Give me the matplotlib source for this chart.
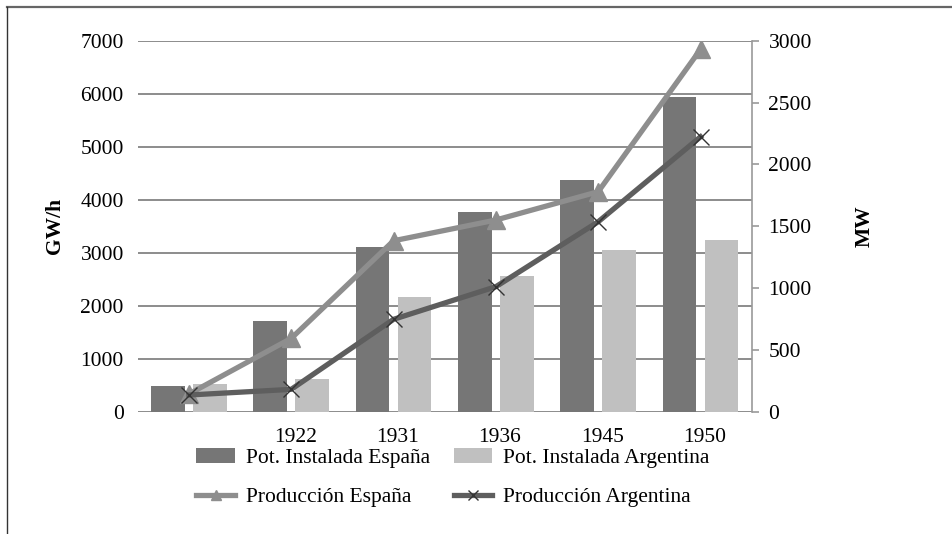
import matplotlib
matplotlib.use("Agg")
import matplotlib.pyplot as plt
import matplotlib.transforms as mtransforms
from matplotlib.lines import Line2D
import numpy as np

plt.rcParams["font.family"] = ["Liberation Serif", "DejaVu Serif"]
plt.rcParams["font.size"] = 15.5

# data
years = ["", "1922", "1931", "1936", "1945", "1950"]
pot_espana = [210, 733, 1334, 1612, 1871, 2547]        # MW
pot_argentina = [224, 262, 925, 1095, 1308, 1386]      # MW
prod_espana = [334, 1384, 3225, 3617, 4151, 6837]      # GW/h
prod_argentina = [315, 422, 1743, 2359, 3584, 5187]    # GW/h

fig = plt.figure(figsize=(9.53, 5.34), dpi=100)
ax = fig.add_axes([0.1445, 0.229, 0.6443, 0.6948])   # MW (bars)
ax2 = ax.twinx()                                       # GW/h (lines)

x = np.arange(len(years))
w = 0.33
ax.bar(x - 0.205, pot_espana, w, color="#767676", zorder=2, label="Pot. Instalada España")
ax.bar(x + 0.205, pot_argentina, w, color="#c0c0c0", zorder=2, label="Pot. Instalada Argentina")

ax2.plot(x, prod_espana, color="#8e8e8e", lw=3.8, marker="^", ms=13,
         mec="#8e8e8e", mfc="#8e8e8e", label="Producción España", zorder=3)
ax2.plot(x, prod_argentina, color="#5e5e5e", lw=3.8, marker="x", ms=11,
         mec="#333333", mew=1.0, label="Producción Argentina", zorder=4)

ax.set_xlim(-0.5, len(years) - 0.5)
ax.set_ylim(0, 3000)
ax2.set_ylim(0, 7000)
ax.set_yticks(np.arange(0, 3001, 500))
ax2.set_yticks(np.arange(0, 7001, 1000))

# gridlines follow the GW/h axis but sit behind the bars
gtrans = mtransforms.blended_transform_factory(ax.transAxes, ax2.transData)
for t in ax2.get_yticks():
    ax.plot([0, 1], [t, t], transform=gtrans, color="#8c8c8c", lw=1.4, zorder=0)

ax.yaxis.tick_right()
ax.yaxis.set_label_position("right")
ax2.yaxis.tick_left()
ax2.yaxis.set_label_position("left")

ax.set_xticks(x)
ax.set_xticklabels(years)
ax.tick_params(axis="x", length=0, pad=12)
shift = mtransforms.ScaledTranslation(4 / 100, 0, fig.dpi_scale_trans)
for lbl in ax.get_xticklabels():
    lbl.set_transform(lbl.get_transform() + shift)
ax.tick_params(axis="y", length=5, color="#999999", width=1.2, pad=7, right=True, left=False)
ax2.tick_params(axis="y", length=0, pad=10, left=True, right=False)
ax2.tick_params(axis="x", length=0)

for a in (ax, ax2):
    for s in a.spines.values():
        s.set_visible(False)
ax.spines["right"].set_visible(True)
ax.spines["right"].set_color("#999999")
ax.spines["right"].set_linewidth(1.2)

ax2.set_ylabel("GW/h", fontweight="bold")
ax2.yaxis.set_label_coords(-0.118, 0.5)
ax.set_ylabel("MW", fontweight="bold")
ax.yaxis.set_label_coords(1.168, 0.5)

h1, l1 = ax.get_legend_handles_labels()
h2, l2 = ax2.get_legend_handles_labels()
handles = [h1[0], h2[0], h1[1], h2[1]]
labels = [l1[0], l2[0], l1[1], l2[1]]
fig.legend(handles, labels, ncol=2, loc="center", bbox_to_anchor=(453 / 953, 1 - 477.5 / 534),
           frameon=False, handlelength=1.8, handletextpad=0.5, columnspacing=1.1,
           labelspacing=0.9, markerscale=0.6, borderpad=0)

# frame of the original figure
fig.add_artist(Line2D([7 / 953, 1], [1 - 7 / 534, 1 - 7 / 534], color="#666666", lw=1.6))
fig.add_artist(Line2D([7 / 953, 7 / 953], [0, 1 - 7 / 534], color="#333333", lw=1.0))

fig.savefig("out.png", dpi=100)
